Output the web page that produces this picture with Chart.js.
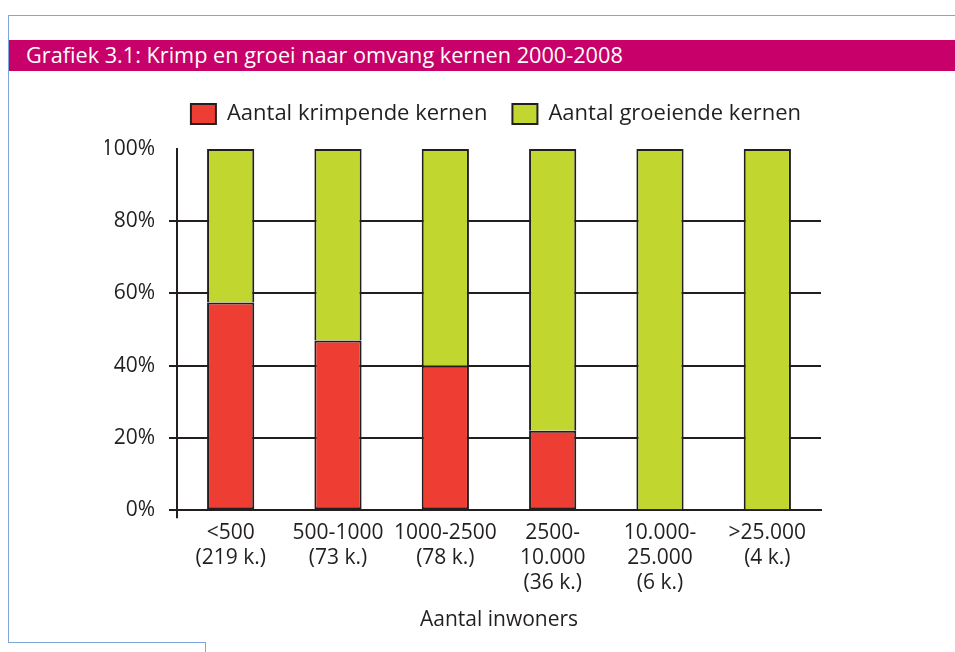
<!DOCTYPE html>
<html>
<head>
<meta charset="utf-8">
<script src="https://cdn.jsdelivr.net/npm/chart.js@4"></script>
<style>
  body { margin: 0; background: #fff; }
  #wrap { position: relative; width: 955px; height: 652px; overflow: hidden; font-family: "Open Sans", sans-serif; }
  .frame-top { position: absolute; left: 8px; top: 15px; width: 947px; height: 0; border-top: 1px solid #7ea6d9; }
  .frame-left { position: absolute; left: 8px; top: 15px; width: 0; height: 627px; border-left: 1px solid #7ea6d9; }
  .frame-bottom { position: absolute; left: 8px; top: 642px; width: 197px; height: 0; border-top: 1px solid #7ea6d9; }
  .frame-foot { position: absolute; left: 205px; top: 642px; width: 0; height: 10px; border-left: 1px solid #7ea6d9; }
  #band { position: absolute; left: 9px; top: 40px; width: 946px; height: 31px; background: #c8006a;
          color: #fff; font-size: 21.7px; line-height: 30px; padding-left: 17px; box-sizing: border-box; white-space: nowrap; }
  #box { position: absolute; left: 0; top: 72px; width: 955px; height: 580px; }
</style>
</head>
<body>
<div id="wrap">
  <div class="frame-top"></div>
  <div class="frame-left"></div>
  <div class="frame-bottom"></div>
  <div class="frame-foot"></div>
  <div id="band">Grafiek 3.1: Krimp en groei naar omvang kernen 2000-2008</div>
  <div id="box"><canvas id="krimpChart"></canvas></div>
</div>
<script>
const categories = [
  ['<500', '(219 k.)'],
  ['500-1000', '(73 k.)'],
  ['1000-2500', '(78 k.)'],
  ['2500-', '10.000', '(36 k.)'],
  ['10.000-', '25.000', '(6 k.)'],
  ['>25.000', '(4 k.)'],
];
const krimpend = [57.5, 47, 40, 22, 0, 0];
const groeiend = [42.5, 53, 60, 78, 100, 100];
const seriesNames = ['Aantal krimpende kernen', 'Aantal groeiende kernen'];
const axisTitle = 'Aantal inwoners';

const ink = '#231f20';
const font = { family: '"Open Sans", sans-serif', size: 21 };

// legend: a bit more room below it, and centred over the plot instead of the canvas
const legendTweak = {
  id: 'legendTweak',
  afterInit(chart) {
    const fit = chart.legend.fit;
    chart.legend.fit = function () { fit.call(this); this.height += 14; };
  },
  afterLayout(chart) {
    const lg = chart.legend;
    const shift = (chart.chartArea.left + chart.chartArea.right) / 2 - (lg.left + lg.right) / 2 - 3;
    lg.left += shift;
    lg.right += shift;
  },
};

new Chart(document.getElementById('krimpChart'), {
  type: 'bar',
  data: {
    labels: categories,
    datasets: [
      { label: seriesNames[0], data: krimpend, backgroundColor: '#ee3e33', borderSkipped: false },
      { label: seriesNames[1], data: groeiend, backgroundColor: '#c1d72f', borderSkipped: 'start' },
    ],
  },
  options: {
    responsive: true, maintainAspectRatio: false, animation: false,
    layout: { padding: { left: 105, right: 134, top: 6, bottom: 15 } },
    datasets: {
      bar: { borderColor: ink, borderWidth: 2, categoryPercentage: 1, barPercentage: 0.44 },
    },
    plugins: {
      legend: {
        labels: { font: { ...font, size: 22 }, color: ink, boxWidth: 25, boxHeight: 20, padding: 25 },
      },
      tooltip: { enabled: false },
    },
    scales: {
      x: {
        stacked: true,
        grid: {
          drawOnChartArea: false, tickLength: 8, lineWidth: 2,
          color: (c) => (c.index === 0 ? ink : 'transparent'),
        },
        border: { display: true, color: ink, width: 2 },
        ticks: { font: { ...font, lineHeight: 1.2 }, color: ink, padding: 2, maxRotation: 0, autoSkip: false },
        title: { display: true, text: axisTitle, font, color: ink, padding: { top: 10 } },
      },
      y: {
        stacked: true, min: 0, max: 100,
        afterFit: (axis) => { axis.width = 72; },
        grid: {
          tickLength: 8, lineWidth: 2,
          color: (c) => (c.tick && c.tick.value === 100 ? 'transparent' : ink),
        },
        border: { display: true, color: ink, width: 2 },
        ticks: { stepSize: 20, font, color: ink, padding: 14, callback: (v) => v + '%' },
      },
    },
  },
  plugins: [legendTweak],
});
</script>
</body>
</html>
